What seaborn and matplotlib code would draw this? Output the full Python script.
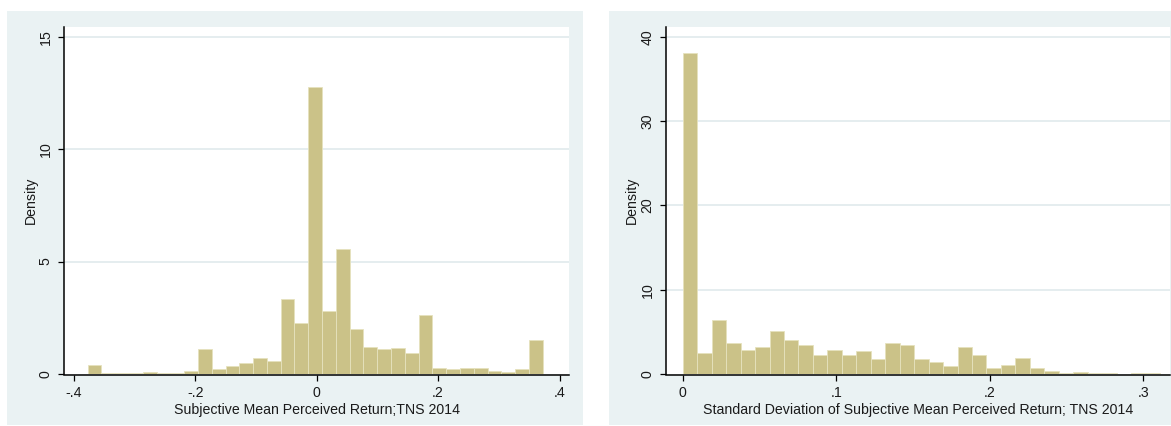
import numpy as np
import pandas as pd
import matplotlib
matplotlib.use("Agg")
import matplotlib.pyplot as plt
from matplotlib.patches import Rectangle
import seaborn as sns

# left histogram: subjective mean perceived return (density per bin)
mean_range = (-0.3775, 0.3725)
mean_density = [0.40, 0.05, 0.05, 0.05, 0.10, 0.05, 0.05, 0.15, 1.09, 0.20,
                0.34, 0.47, 0.72, 0.59, 3.33, 2.27, 12.74, 2.78, 5.56, 2.01,
                1.20, 1.09, 1.15, 0.95, 2.64, 0.26, 0.20, 0.26, 0.26, 0.15,
                0.09, 0.20, 1.51]
mean_xticks = [-0.4, -0.2, 0, 0.2, 0.4]
mean_xlabels = ["-.4", "-.2", "0", ".2", ".4"]
mean_yticks = [0, 5, 10, 15]

# right histogram: std dev of subjective mean perceived return
sd_range = (0.0, 0.311)
sd_density = [38.1, 2.43, 6.4, 3.73, 2.9, 3.2, 5.06, 4.08, 3.41, 2.24,
              2.9, 2.24, 2.75, 1.73, 3.73, 3.41, 1.73, 1.41, 0.9, 3.25,
              2.24, 0.7, 1.06, 1.92, 0.7, 0.39, 0.14, 0.27, 0.14, 0.14,
              0.0, 0.14, 0.14]
sd_xticks = [0, 0.1, 0.2, 0.3]
sd_xlabels = ["0", ".1", ".2", ".3"]
sd_yticks = [0, 10, 20, 30, 40]

sns.set_style("white")
plt.rcParams['font.family'] = ['Liberation Sans', 'DejaVu Sans']

bar_col = "#CBC288"
edge_col = "#E6E2BE"
bg_col = "#EAF2F3"
txt_col = "#1a1a1a"

fig = plt.figure(figsize=(11.71, 4.26), dpi=100)
fig.patch.set_facecolor("white")

# stata style grey graph regions
fig.patches.append(Rectangle((0.006, 0.0023), 0.4919, 0.9718, transform=fig.transFigure,
                             facecolor=bg_col, edgecolor="none", zorder=-5))
fig.patches.append(Rectangle((0.52, 0.0023), 0.48, 0.9718, transform=fig.transFigure,
                             facecolor=bg_col, edgecolor="none", zorder=-5))

ax1 = fig.add_axes([0.05465, 0.1221, 0.4313, 0.8153])
ax2 = fig.add_axes([0.5685, 0.1221, 0.4307, 0.8153])


def draw_hist(ax, rng, dens, xlim, ylim, xticks, xlabels, yticks, xlab):
    edges = np.linspace(rng[0], rng[1], len(dens) + 1).tolist()
    centers = [(a + b) / 2 for a, b in zip(edges[:-1], edges[1:])]
    df = pd.DataFrame({"x": centers, "w": dens})
    sns.histplot(data=df, x="x", weights="w", bins=edges, stat="count",
                 color=bar_col, edgecolor=edge_col, linewidth=0.6, alpha=1,
                 ax=ax, zorder=3)
    ax.set_facecolor("white")
    ax.set_xlim(*xlim)
    ax.set_ylim(*ylim)
    ax.set_xticks(xticks)
    ax.set_xticklabels(xlabels)
    ax.set_yticks(yticks)
    ax.set_yticklabels([str(t) for t in yticks], rotation=90, va="center")
    for y in yticks[1:]:
        ax.axhline(y, color="#E3ECEE", lw=1.3, zorder=1)
    for s in ["top", "right"]:
        ax.spines[s].set_visible(False)
    for s in ["left", "bottom"]:
        ax.spines[s].set_color("black")
        ax.spines[s].set_linewidth(1.1)
        ax.spines[s].set_zorder(5)
    ax.spines["bottom"].set_position(("outward", 0.8))
    ax.tick_params(axis="both", which="major", length=4, width=0.9, color="black",
                   labelsize=10.2, labelcolor=txt_col, pad=4, direction="out")
    ax.tick_params(axis="x", bottom=True)
    ax.tick_params(axis="y", left=True)
    ax.set_xlabel(xlab, fontsize=10.2, color=txt_col, labelpad=2)
    ax.set_ylabel("Density", fontsize=10.2, color=txt_col, labelpad=1)


draw_hist(ax1, mean_range, mean_density, (-0.4163, 0.4157), (0, 15.44),
          mean_xticks, mean_xlabels, mean_yticks,
          "Subjective Mean Perceived Return;TNS 2014")
draw_hist(ax2, sd_range, sd_density, (-0.01107, 0.3175), (0, 41.19),
          sd_xticks, sd_xlabels, sd_yticks,
          "Standard Deviation of Subjective Mean Perceived Return; TNS 2014")

fig.savefig("out.png", dpi=100, facecolor="white")
